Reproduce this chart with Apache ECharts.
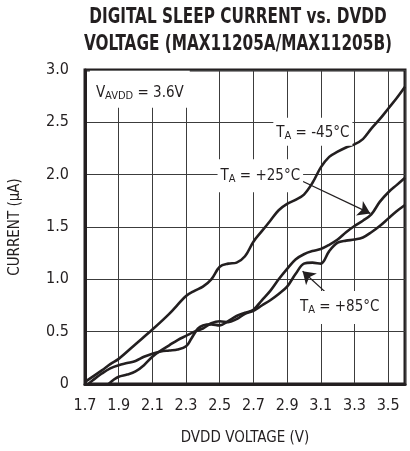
<!DOCTYPE html>
<html>
<head>
<meta charset="utf-8">
<script src="https://cdn.jsdelivr.net/npm/echarts@6/dist/echarts.min.js"></script>
<style>
  html, body { margin: 0; padding: 0; background: #fff; }
  #chart { width: 410px; height: 451px; }
</style>
</head>
<body>
<div id="chart"></div>
<script>
// T_A = -45°C
const voltsM45 = [1.7, 1.8, 1.85, 1.9, 2.0, 2.1, 2.2, 2.3, 2.35, 2.4, 2.45, 2.5, 2.55, 2.6, 2.65, 2.7, 2.75, 2.8, 2.85, 2.9, 2.95, 3.0, 3.05, 3.1, 3.15, 3.2, 3.25, 3.3, 3.35, 3.4, 3.45, 3.5, 3.55, 3.6];
const currM45 = [0.02, 0.13, 0.19, 0.24, 0.38, 0.52, 0.67, 0.84, 0.89, 0.93, 1.0, 1.12, 1.15, 1.16, 1.22, 1.36, 1.46, 1.56, 1.66, 1.72, 1.76, 1.81, 1.92, 2.07, 2.17, 2.22, 2.26, 2.29, 2.34, 2.44, 2.53, 2.63, 2.73, 2.84];

// T_A = +25°C
const voltsP25 = [1.72, 1.75, 1.8, 1.85, 1.9, 1.95, 2.0, 2.05, 2.1, 2.15, 2.2, 2.25, 2.3, 2.33, 2.37, 2.4, 2.45, 2.5, 2.55, 2.6, 2.65, 2.7, 2.75, 2.8, 2.85, 2.9, 2.95, 3.0, 3.05, 3.1, 3.15, 3.2, 3.25, 3.3, 3.35, 3.4, 3.45, 3.5, 3.55, 3.6];
const currP25 = [0.0, 0.04, 0.10, 0.15, 0.18, 0.20, 0.22, 0.26, 0.29, 0.31, 0.32, 0.33, 0.36, 0.43, 0.53, 0.56, 0.57, 0.56, 0.60, 0.65, 0.68, 0.71, 0.80, 0.89, 1.00, 1.10, 1.19, 1.24, 1.27, 1.29, 1.33, 1.38, 1.45, 1.51, 1.56, 1.62, 1.74, 1.83, 1.90, 1.97];

// T_A = +85°C
const voltsP85 = [1.84, 1.87, 1.9, 1.95, 2.0, 2.05, 2.1, 2.15, 2.2, 2.25, 2.3, 2.35, 2.4, 2.45, 2.5, 2.55, 2.6, 2.65, 2.7, 2.75, 2.8, 2.85, 2.9, 2.95, 3.0, 3.05, 3.1, 3.15, 3.2, 3.25, 3.3, 3.35, 3.4, 3.45, 3.5, 3.55, 3.6];
const currP85 = [0.0, 0.04, 0.07, 0.09, 0.12, 0.18, 0.26, 0.32, 0.37, 0.42, 0.46, 0.50, 0.53, 0.58, 0.60, 0.59, 0.62, 0.67, 0.70, 0.75, 0.80, 0.86, 0.93, 1.05, 1.15, 1.16, 1.15, 1.27, 1.35, 1.37, 1.38, 1.40, 1.45, 1.51, 1.58, 1.65, 1.71];

const titleLines = ["DIGITAL SLEEP CURRENT vs. DVDD", "VOLTAGE (MAX11205A/MAX11205B)"];

const ink = "#231f20";
const narrow = "'Liberation Sans Narrow', 'DejaVu Sans Condensed', 'Roboto Condensed', sans-serif";

const zip = (xs, ys) => xs.map((x, i) => [x, ys[i]]);

const rich = {
  m: { fontFamily: narrow, fontSize: 15, color: ink, lineHeight: 17 },
  s: { fontFamily: narrow, fontSize: 11, color: ink, lineHeight: 11, verticalAlign: "bottom" },
};

function boxLabel(text, sub, rest, padding, align) {
  return {
    show: true,
    position: "inside",
    align: align || "center",
    verticalAlign: "middle",
    backgroundColor: "#fff",
    padding: padding,
    formatter: `{m|${text}}{s|${sub}}{m|${rest}}`,
    rich: rich,
  };
}

const arrowLine = (from, to) => [{ coord: from }, { coord: to }];

const chart = echarts.init(document.getElementById("chart"), null, { renderer: "canvas" });

chart.setOption({
  animation: false,
  backgroundColor: "#fff",
  graphic: titleLines.map((line, i) => ({
    type: "text",
    x: 238,
    y: 18 + i * 27,
    scaleX: 0.81,
    style: {
      text: line,
      fill: ink,
      font: `bold 21px ${narrow}`,
      textAlign: "center",
      textVerticalAlign: "middle",
    },
  })),
  grid: {
    left: 82, right: 5, top: 70, bottom: 58,
    show: true, borderColor: ink, borderWidth: 3,
  },
  xAxis: {
    type: "value",
    min: 1.7, max: 3.6, interval: 0.2,
    name: "DVDD VOLTAGE (V)",
    nameLocation: "middle",
    nameGap: 47,
    nameTextStyle: { fontFamily: narrow, fontSize: 15, color: ink },
    axisLine: { show: true, lineStyle: { color: ink, width: 3 } },
    axisTick: { show: false },
    axisLabel: {
      margin: 14, fontFamily: narrow, fontSize: 16, color: ink,
      showMaxLabel: false,
      formatter: (v) => v.toFixed(1),
    },
    splitLine: { show: true, lineStyle: { color: "#3c3c3c", width: 1 } },
  },
  yAxis: {
    type: "value",
    min: 0, max: 3, interval: 0.5,
    name: "CURRENT (μA)",
    nameLocation: "middle",
    nameGap: 62,
    nameTextStyle: { fontFamily: narrow, fontSize: 15, color: ink },
    axisLine: { show: true, lineStyle: { color: ink, width: 3 } },
    axisTick: { show: false },
    axisLabel: {
      margin: 16, fontFamily: narrow, fontSize: 16, color: ink,
      formatter: (v) => (v === 0 ? "0" : v.toFixed(1)),
    },
    splitLine: { show: true, lineStyle: { color: "#3c3c3c", width: 1 } },
  },
  series: [
    {
      name: "-45°C",
      type: "line",
      data: zip(voltsM45, currM45),
      smooth: 0.35,
      symbol: "none",
      z: 3,
      lineStyle: { color: ink, width: 2.6 },
      markPoint: {
        symbol: "rect", symbolSize: 1, silent: true,
        itemStyle: { color: "rgba(0,0,0,0)" },
        data: [
          { coord: [1.729, 2.815], label: boxLabel("V", "AVDD", " = 3.6V", [14, 6, 6, 6], "left") },
          { coord: [3.053, 2.41], label: boxLabel("T", "A", " = -45°C", [7, 3, 4, 3]) },
        ],
      },
    },
    {
      name: "+25°C",
      type: "line",
      data: zip(voltsP25, currP25),
      smooth: 0.35,
      symbol: "none",
      lineStyle: { color: ink, width: 2.6 },
      markPoint: {
        symbol: "rect", symbolSize: 1, silent: true,
        itemStyle: { color: "rgba(0,0,0,0)" },
        data: [
          { coord: [2.741, 1.99], label: boxLabel("T", "A", " = +25°C", [8, 3, 8, 3]) },
        ],
      },
      markLine: {
        silent: true,
        symbol: ["none", "arrow"],
        symbolSize: 12,
        label: { show: false },
        lineStyle: { color: ink, width: 1.3, type: "solid" },
        data: [arrowLine([2.982, 1.944], [3.394, 1.63])],
      },
    },
    {
      name: "+85°C",
      type: "line",
      data: zip(voltsP85, currP85),
      smooth: 0.35,
      symbol: "none",
      lineStyle: { color: ink, width: 2.6 },
      markPoint: {
        symbol: "rect", symbolSize: 1, silent: true,
        itemStyle: { color: "rgba(0,0,0,0)" },
        data: [
          { coord: [3.212, 0.731], label: boxLabel("T", "A", " = +85°C", [8, 3, 8, 3]) },
        ],
      },
      markLine: {
        silent: true,
        symbol: ["none", "arrow"],
        symbolSize: 12,
        label: { show: false },
        lineStyle: { color: ink, width: 1.3, type: "solid" },
        data: [arrowLine([3.139, 0.861], [2.992, 1.077])],
      },
    },
  ],
});
</script>
</body>
</html>
